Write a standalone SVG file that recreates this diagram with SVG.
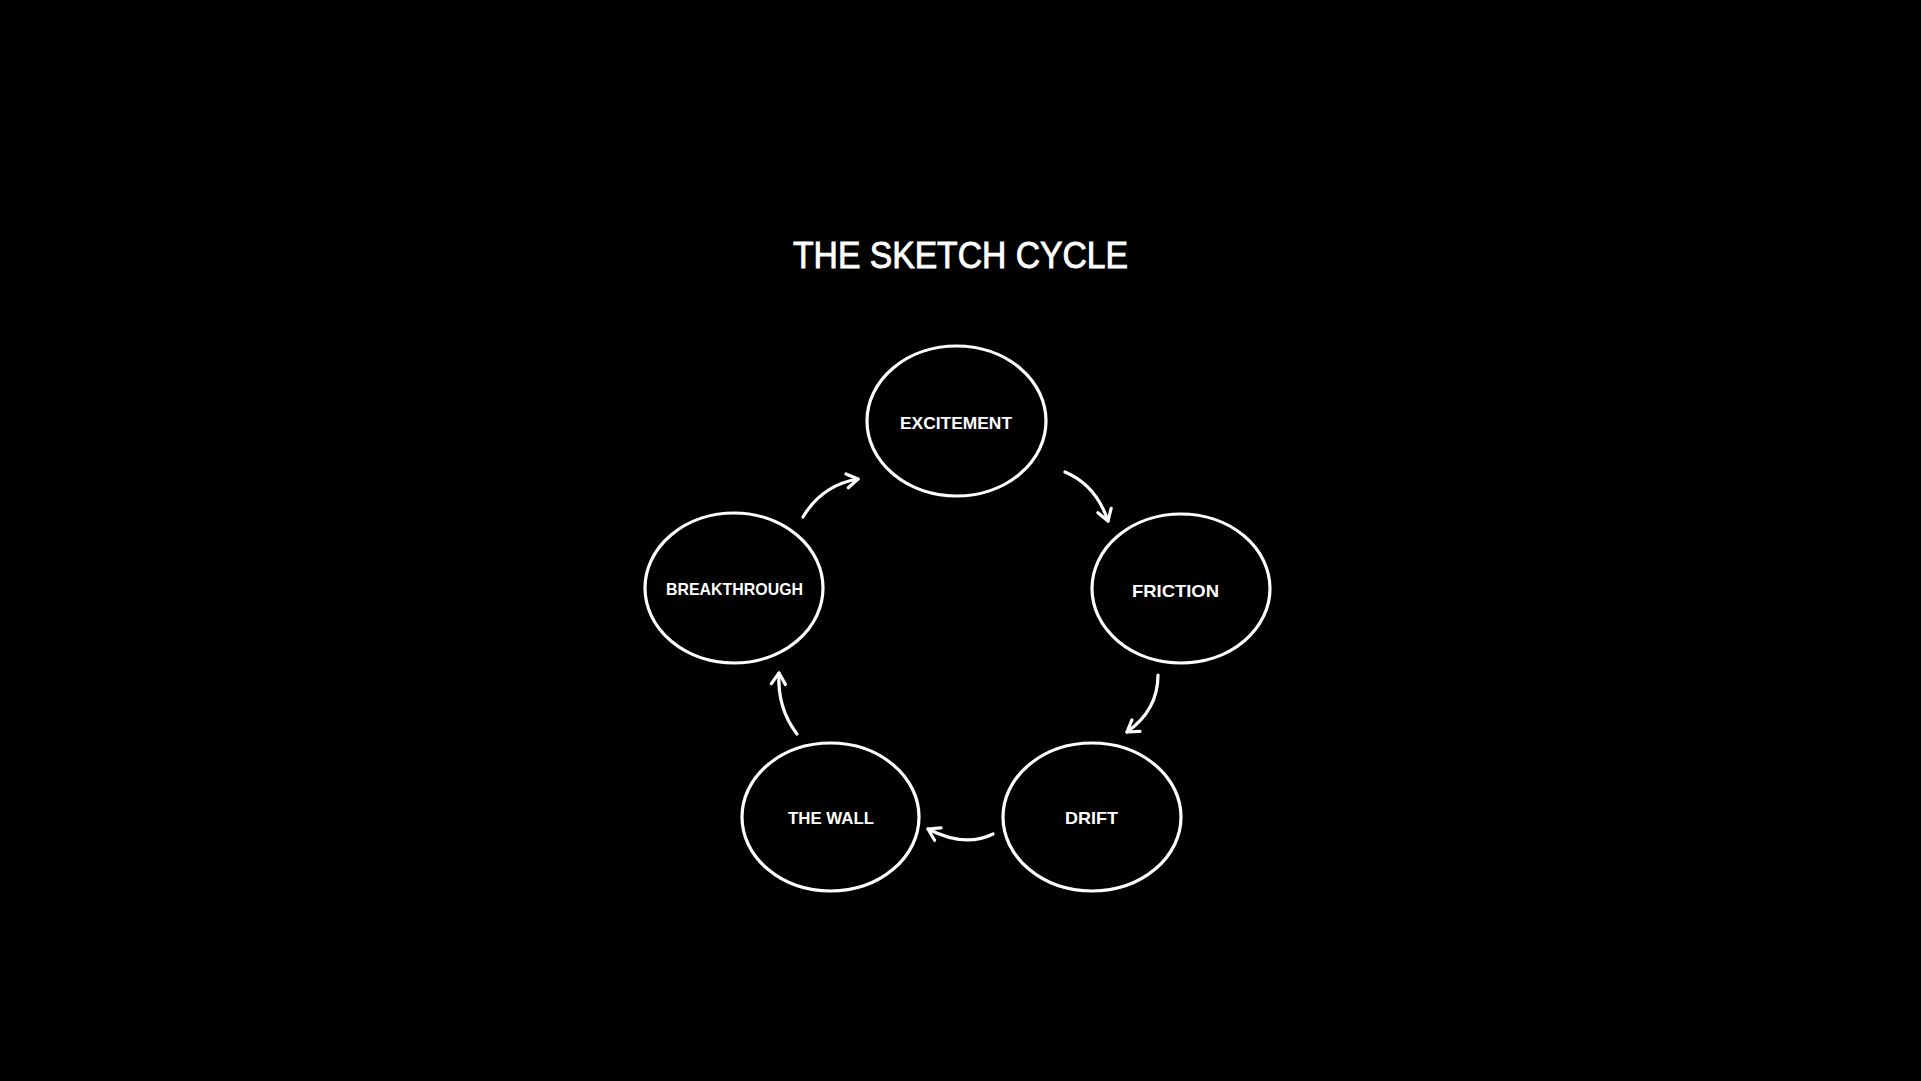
<svg xmlns="http://www.w3.org/2000/svg" width="1921" height="1081" viewBox="0 0 1921 1081">
<style>
.node{fill:none;stroke:#fff;stroke-width:3.2}
.lbl{fill:#fff;font-family:"Liberation Sans",Arial,sans-serif;font-weight:bold;font-size:17px;text-anchor:middle}
.title{fill:#fff;stroke:#fff;stroke-width:0.9;font-family:"Liberation Sans",Arial,sans-serif;font-size:36px;text-anchor:middle}
.edge{fill:none;stroke:#fff;stroke-width:3.2;stroke-linecap:round}
</style>
<defs>
<marker id="ah" markerUnits="userSpaceOnUse" markerWidth="30" markerHeight="30" viewBox="-15 -15 30 30" refX="0" refY="0" orient="auto">
<path d="M -11 -7 L 0 0 L -11 7" fill="none" stroke="#fff" stroke-width="3.2" stroke-linecap="round" stroke-linejoin="round"/>
</marker>
</defs>
<rect x="0" y="0" width="1921" height="1081" fill="#000"/>
<text class="title" x="960.5" y="268" textLength="335" lengthAdjust="spacingAndGlyphs">THE SKETCH CYCLE</text>
<g id="connectors">
<path class="edge" d="M 1065 472 Q 1096 485 1108 521" marker-end="url(#ah)"/>
<path class="edge" d="M 1158 675 Q 1158 710 1127 732" marker-end="url(#ah)"/>
<path class="edge" d="M 993 834 Q 965 848 928 829" marker-end="url(#ah)"/>
<path class="edge" d="M 797 734 Q 777 708 779 673" marker-end="url(#ah)"/>
<path class="edge" d="M 803 517 Q 822 485 858 479" marker-end="url(#ah)"/>
</g>
<g id="excitement">
<ellipse class="node" cx="956.5" cy="421" rx="89.5" ry="75"/>
<text class="lbl" x="956" y="429" textLength="112" lengthAdjust="spacingAndGlyphs">EXCITEMENT</text>
</g>
<g id="friction">
<ellipse class="node" cx="1181" cy="588.5" rx="89" ry="74.5"/>
<text class="lbl" x="1175.5" y="597" textLength="87" lengthAdjust="spacingAndGlyphs">FRICTION</text>
</g>
<g id="drift">
<ellipse class="node" cx="1092" cy="817" rx="89" ry="74"/>
<text class="lbl" x="1091.5" y="824" textLength="53" lengthAdjust="spacingAndGlyphs">DRIFT</text>
</g>
<g id="the-wall">
<ellipse class="node" cx="830.5" cy="817" rx="88.5" ry="74"/>
<text class="lbl" x="831" y="824" textLength="86" lengthAdjust="spacingAndGlyphs">THE WALL</text>
</g>
<g id="breakthrough">
<ellipse class="node" cx="734" cy="588" rx="89" ry="75"/>
<text class="lbl" x="734.5" y="595" textLength="137" lengthAdjust="spacingAndGlyphs">BREAKTHROUGH</text>
</g>
</svg>
